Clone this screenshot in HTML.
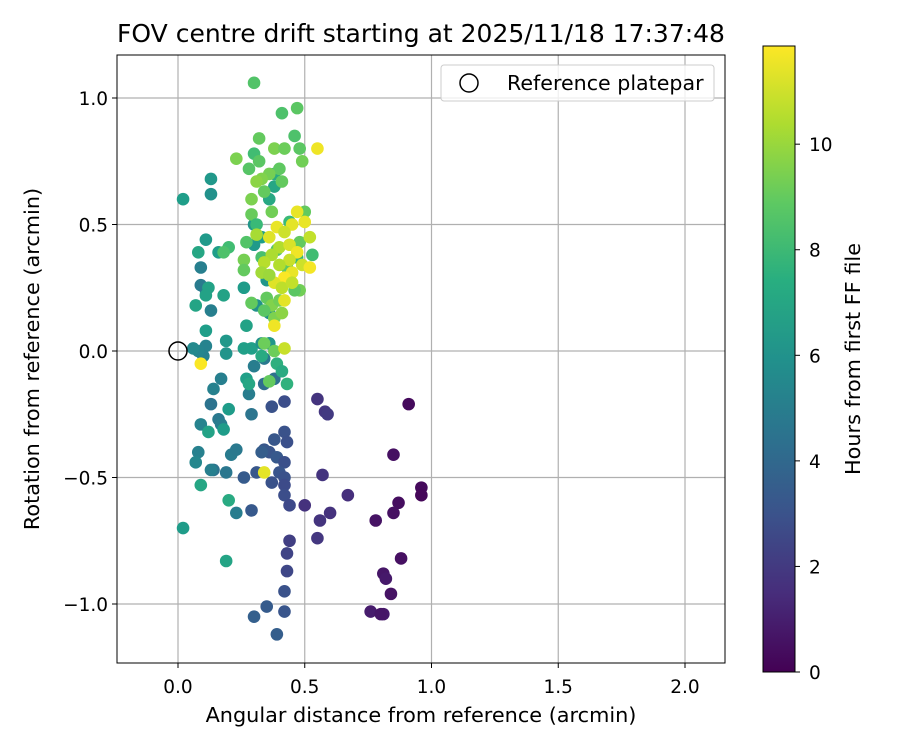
<!DOCTYPE html>
<html><head><meta charset="utf-8">
<style>
html,body{margin:0;padding:0;background:#fff;}
svg text{font-family:"DejaVu Sans","Liberation Sans",sans-serif;fill:#000;}
</style></head>
<body>
<svg id="chart" width="900" height="750" xmlns="http://www.w3.org/2000/svg">
  <defs>
    <linearGradient id="vir" x1="0" y1="1" x2="0" y2="0">
      <stop offset="0" stop-color="#440154"/><stop offset="0.125" stop-color="#472d7b"/>
      <stop offset="0.25" stop-color="#3b528b"/><stop offset="0.375" stop-color="#2c728e"/>
      <stop offset="0.5" stop-color="#21918c"/><stop offset="0.625" stop-color="#28ae80"/>
      <stop offset="0.75" stop-color="#5ec962"/><stop offset="0.875" stop-color="#addc30"/>
      <stop offset="1" stop-color="#fde725"/>
    </linearGradient>
    <clipPath id="plotclip"><rect x="117" y="55" width="608" height="608"/></clipPath>
  </defs>
  <text x="421" y="42" font-size="25" text-anchor="middle">FOV centre drift starting at 2025/11/18 17:37:48</text>
  <g id="grid"></g>
  <g id="points" clip-path="url(#plotclip)"></g>
  <rect x="117" y="55" width="608" height="608" fill="none" stroke="#000" stroke-width="1"/>
  <g id="axes"></g>
  <text x="421" y="722" font-size="20.8" text-anchor="middle">Angular distance from reference (arcmin)</text>
  <text transform="translate(39,359) rotate(-90)" font-size="20.8" text-anchor="middle">Rotation from reference (arcmin)</text>
  <g>
    <rect x="441" y="65" width="273" height="36" rx="3" fill="#fff" fill-opacity="0.8" stroke="#ccc"/>
    <circle cx="469" cy="83" r="9" fill="none" stroke="#000" stroke-width="1.5"/>
    <text x="507" y="90" font-size="20.6">Reference platepar</text>
  </g>
  <rect x="763" y="46" width="32" height="626" fill="url(#vir)" stroke="#000" stroke-width="1"/>
  <g id="cbar"></g>
  <text transform="translate(860,359) rotate(-90)" font-size="20.8" text-anchor="middle">Hours from first FF file</text>
</svg>
<script>
const xs=[0.91,0.85,0.96,0.96,0.87,0.85,0.78,0.88,0.81,0.82,0.84,0.76,0.81,0.80,
0.55,0.58,0.59,0.57,0.67,0.50,0.56,0.60,0.55,0.44,0.43,0.43,
0.42,0.37,0.38,0.42,0.43,0.36,0.34,0.39,0.42,0.40,0.42,0.42,0.42,0.44,0.37,0.31,0.26,0.29,0.42,0.42,0.35,0.30,0.39,0.33,
0.13,0.16,0.17,0.14,0.19,0.21,0.23,0.23,0.09,0.08,0.07,0.13,0.28,0.29,0.34,0.30,0.34,0.38,0.36,0.09,0.09,0.11,0.13,0.11,0.10,0.08,0.06,0.14,0.17,
0.13,0.13,0.02,0.11,0.16,0.08,0.12,0.11,0.07,0.18,0.26,0.19,0.19,0.11,0.26,0.29,0.27,0.18,0.12,0.20,0.09,0.20,0.19,0.02,0.27,0.28,0.33,0.39,0.41,0.43,0.33,0.36,0.31,0.35,0.30,0.30,0.33,0.36,0.36,0.38,0.38,
0.30,0.47,0.41,0.32,0.46,0.48,0.38,0.42,0.49,0.30,0.32,0.23,0.28,0.40,0.36,0.33,0.41,0.31,0.34,0.29,0.29,0.37,0.44,0.31,0.50,0.53,0.47,0.27,0.26,0.26,0.43,0.48,0.46,0.20,0.18,0.33,0.39,0.35,0.37,0.34,0.40,0.38,0.41,0.29,0.34,0.38,0.36,0.48,
0.55,0.47,0.50,0.45,0.52,0.39,0.42,0.36,0.40,0.44,0.47,0.44,0.49,0.52,0.45,0.42,0.38,0.41,0.42,0.38,0.42,0.09,0.34,0.37,0.34,0.40,0.45,0.33,0.36,0.31];
const ys=[-0.21,-0.41,-0.54,-0.57,-0.60,-0.64,-0.67,-0.82,-0.88,-0.90,-0.96,-1.03,-1.04,-1.04,
-0.19,-0.24,-0.25,-0.49,-0.57,-0.61,-0.67,-0.64,-0.74,-0.75,-0.80,-0.87,
-0.20,-0.22,-0.35,-0.32,-0.36,-0.40,-0.39,-0.42,-0.44,-0.48,-0.50,-0.53,-0.57,-0.61,-0.52,-0.48,-0.50,-0.63,-0.95,-1.03,-1.01,-1.05,-1.12,-0.40,
-0.21,-0.27,-0.29,-0.47,-0.48,-0.41,-0.39,-0.64,-0.29,-0.40,-0.44,-0.47,-0.17,-0.25,-0.03,-0.06,-0.13,-0.11,0.03,0.33,0.26,0.24,0.16,0.02,-0.02,0.00,0.01,-0.15,-0.11,
0.68,0.62,0.60,0.44,0.39,0.39,0.25,0.22,0.18,0.22,0.25,0.04,-0.01,0.08,0.01,0.01,0.10,-0.31,-0.32,-0.23,-0.53,-0.59,-0.83,-0.70,-0.11,-0.13,-0.02,-0.05,-0.08,-0.13,0.03,0.03,0.18,0.28,0.42,0.50,0.45,0.15,0.60,0.65,0.70,
1.06,0.96,0.94,0.84,0.85,0.80,0.80,0.80,0.75,0.78,0.75,0.76,0.72,0.72,0.70,0.68,0.67,0.67,0.63,0.60,0.54,0.55,0.51,0.50,0.55,0.38,0.37,0.43,0.36,0.32,0.33,0.24,0.24,0.41,0.39,0.37,0.40,0.21,0.18,0.16,0.20,0.13,0.15,0.19,0.03,0.00,-0.12,0.43,
0.80,0.55,0.51,0.50,0.45,0.49,0.47,0.45,0.41,0.42,0.39,0.36,0.34,0.33,0.31,0.29,0.27,0.25,0.20,0.10,0.01,-0.05,-0.48,0.38,0.35,0.34,0.27,0.31,0.30,0.46];
const hours=[0.3,0.5,0.3,0.2,0.4,0.5,0.6,0.5,0.7,0.8,0.6,0.9,0.8,0.7,
1.8,1.9,2.0,1.8,1.6,1.7,1.8,1.7,1.9,2.2,2.4,2.5,
2.8,3.0,3.2,3.0,2.9,3.1,3.2,3.3,2.9,3.1,3.0,2.7,2.8,2.6,3.0,3.2,3.4,3.3,3.0,3.1,3.4,3.6,3.5,3.5,
4.5,4.8,5.0,4.5,4.7,4.9,4.8,5.0,5.3,5.2,5.5,5.1,5.0,4.6,4.8,5.0,4.2,4.4,5.2,5.1,4.9,4.8,5.1,5.3,5.2,5.4,5.6,5.2,5.1,
6.3,6.0,6.6,6.4,6.6,7.0,6.8,6.8,6.9,6.8,6.5,6.3,6.1,6.6,6.7,6.7,6.8,6.5,6.8,6.5,7.0,7.2,6.9,6.5,6.7,7.0,7.2,7.5,7.2,7.6,6.0,6.2,6.0,6.2,6.4,6.2,6.6,6.0,7.1,7.0,7.3,
8.6,8.8,8.5,9.0,8.5,8.8,9.5,9.2,9.3,8.2,8.8,9.5,8.7,8.9,9.4,9.6,9.0,9.8,9.0,9.5,9.1,9.3,8.0,8.0,9.0,8.2,7.9,8.6,9.4,9.0,8.9,9.3,8.8,8.2,8.5,8.4,8.7,9.0,9.6,8.8,9.3,9.5,9.8,9.0,9.2,9.2,9.0,9.0,
11.6,11.5,11.5,11.4,10.8,11.5,11.0,11.3,10.5,11.2,11.6,10.9,11.0,11.7,11.5,11.8,11.3,10.7,11.4,11.6,10.9,11.8,11.4,10.4,10.6,10.5,10.8,10.2,10.1,10.3];
const xTicks=[0.0,0.5,1.0,1.5,2.0];
const xTickLabels=["0.0","0.5","1.0","1.5","2.0"];
const yTicks=[-1.0,-0.5,0.0,0.5,1.0];
const yTickLabels=["\u22121.0","\u22120.5","0.0","0.5","1.0"];
const cTicks=[0,2,4,6,8,10];
const cTickLabels=["0","2","4","6","8","10"];

const NS="http://www.w3.org/2000/svg";
const X=v=>178+v*253.5;
const Y=v=>351-v*253;
const C=v=>672-v*(626/11.86);
const vstops=[[68,1,84],[72,40,120],[62,74,137],[49,104,142],[38,130,142],[31,158,137],[53,183,121],[109,205,89],[180,222,44],[253,231,37]];
function viridis(t){t=Math.max(0,Math.min(1,t));const s=t*(vstops.length-1);const i=Math.min(Math.floor(s),vstops.length-2);const f=s-i;
const a=vstops[i],b=vstops[i+1];return `rgb(${a.map((c,k)=>Math.round(c+(b[k]-c)*f)).join(',')})`;}
function mk(tag,attrs,parent){const e=document.createElementNS(NS,tag);for(const k in attrs)e.setAttribute(k,attrs[k]);parent.appendChild(e);return e;}
const grid=document.getElementById('grid'),axes=document.getElementById('axes'),pts=document.getElementById('points'),cbar=document.getElementById('cbar');
xTicks.forEach((t,i)=>{
  const g=mk('line',{x1:X(t),x2:X(t),y1:55,y2:663,stroke:'#b0b0b0','stroke-width':1.2},grid);
  
  
  mk('line',{x1:X(t),x2:X(t),y1:663,y2:668,stroke:'#000'},axes);
  const tx=mk('text',{x:X(t),y:693,'font-size':18.5,'text-anchor':'middle'},axes);tx.textContent=xTickLabels[i];
  
  
});
yTicks.forEach((t,i)=>{
  const g=mk('line',{x1:117,x2:725,y1:Y(t),y2:Y(t),stroke:'#b0b0b0','stroke-width':1.2},grid);
  
  
  mk('line',{x1:112,x2:117,y1:Y(t),y2:Y(t),stroke:'#000'},axes);
  const tx=mk('text',{x:108,y:Y(t)+7,'font-size':18.5,'text-anchor':'end'},axes);tx.textContent=yTickLabels[i];
  
  
});
for(let i=0;i<xs.length;i++){
  const c=mk('circle',{cx:X(xs[i]),cy:Y(ys[i]),r:6.3,fill:viridis(hours[i]/11.86)},pts);
  
  
}
const ref=mk('circle',{cx:X(0),cy:Y(0),r:9,fill:'none',stroke:'#000','stroke-width':1.5},pts);


cTicks.forEach((t,i)=>{
  mk('line',{x1:795,x2:800,y1:C(t),y2:C(t),stroke:'#000'},cbar);
  const tx=mk('text',{x:809,y:C(t)+7,'font-size':18.5},cbar);tx.textContent=cTickLabels[i];
  
  
});
</script>
</body></html>
